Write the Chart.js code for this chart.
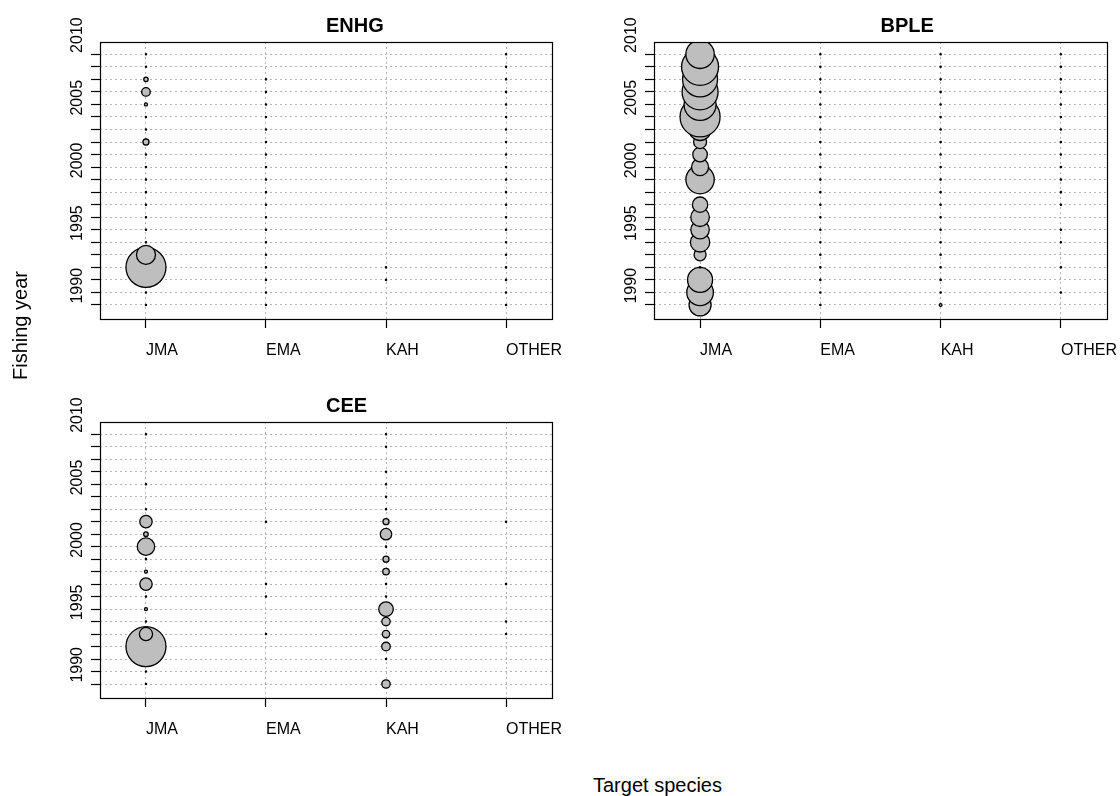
<!DOCTYPE html>
<html>
<head>
<meta charset="utf-8">
<script src="https://cdn.jsdelivr.net/npm/chart.js@4/dist/chart.umd.min.js"></script>
<style>
body { margin: 0; background: #fff; width: 1120px; height: 796px; position: relative; overflow: hidden; font-family: "Liberation Sans", Arial, sans-serif; }
.panel { position: absolute; height: 380px; }
.lab { position: absolute; font-size: 20px; line-height: 20px; white-space: nowrap; color: #000; }
</style>
</head>
<body>
<div class="panel" style="left:0;top:0"><canvas id="enhg" width="600" height="380"></canvas></div>
<div class="panel" style="left:0;top:380px"><canvas id="cee" width="600" height="380"></canvas></div>
<div class="panel" style="left:560px;top:0"><canvas id="bple" width="560" height="380"></canvas></div>
<div class="lab" style="left:10px;top:380px;transform-origin:0 0;transform:rotate(-90deg)">Fishing year</div>
<div class="lab" style="left:593px;top:775px">Target species</div>
<script>
// fishing years (rows) and target species (columns)
const years = [1990, 1991, 1992, 1993, 1994, 1995, 1996, 1997, 1998, 1999, 2000,
               2001, 2002, 2003, 2004, 2005, 2006, 2007, 2008, 2009, 2010]
const species = ["JMA", "EMA", "KAH", "OTHER"]

// relative catch per year (1990 -> 2010), null = no record
const enhgJMA   = [0.1, 0.1, 0.1, 100, 22.6, 0.1, 0.1, 0.1, 0.1, 0.1, 0.1, 0.1, 0.1, 2.3, 0.1, 0.1, 0.6, 4.6, 1.2, 0.1, 0.1]
const enhgEMA   = [0.1, 0.1, 0.1, 0.1, 0.1, 0.1, 0.1, 0.1, 0.1, 0.1, 0.1, 0.1, 0.1, 0.1, 0.1, 0.1, 0.1, 0.1, 0.1, null, null]
const enhgKAH   = [null, null, 0.1, 0.1, null, null, null, null, null, null, null, null, null, null, null, null, null, null, null, null, null]
const enhgOTHER = [0.1, 0.1, 0.1, 0.1, 0.1, 0.1, 0.1, 0.1, 0.1, 0.1, 0.1, 0.1, 0.1, 0.1, 0.1, 0.1, 0.1, 0.1, 0.1, 0.1, 0.1]

const bpleJMA   = [30.3, 44.2, 39, 0.16, 9, 23.5, 21.2, 21.6, 14.8, 0.25, 50.4, 18.1, 13.3, 10.6, 30.3, 100, 64, 81, 76.6, 85.6, 50.4]
const bpleEMA   = [0.1, 0.1, 0.1, 0.1, 0.1, 0.1, 0.1, 0.1, 0.1, 0.1, 0.1, 0.1, 0.1, 0.1, 0.1, 0.1, 0.1, 0.1, 0.1, 0.1, 0.1]
const bpleKAH   = [0.5, 0.1, 0.1, 0.1, 0.1, 0.1, 0.1, 0.1, 0.1, 0.1, 0.1, 0.1, 0.1, 0.1, 0.1, 0.1, 0.1, 0.1, 0.1, 0.1, 0.1]
const bpleOTHER = [null, 0.1, null, 0.1, null, 0.1, 0.1, null, 0.1, 0.1, 0.1, 0.1, 0.1, 0.1, 0.1, 0.1, 0.1, 0.1, 0.1, 0.1, 0.1]

const ceeJMA    = [0.1, 0.1, 0.1, 100, 10.9, 0.1, 0.6, 0.1, 9.6, 0.6, 0.1, 18.9, 1.3, 9.6, 0.1, null, 0.1, null, null, null, 0.1]
const ceeEMA    = [null, null, null, null, 0.1, null, null, 0.1, 0.1, null, null, null, null, 0.1, null, null, null, null, null, null, null]
const ceeKAH    = [4.4, null, 0.1, 4.6, 3.4, 4.4, 13.3, 0.1, 0.1, 2.7, 2.3, 0.1, 8.1, 2.3, 0.1, 0.1, 0.1, 0.1, null, 0.1, 0.1]
const ceeOTHER  = [null, null, null, null, 0.1, 0.1, null, null, 0.1, null, null, null, null, 0.1, null, null, null, null, null, null, null]

const maxRadius = 20
const fontFamily = '"Liberation Sans", Arial, sans-serif'

const panelFrame = {
    id: 'panelFrame',
    afterDraw(chart, args, opts) {
        const {ctx, chartArea: a} = chart
        ctx.save()
        ctx.strokeStyle = '#000'
        ctx.lineWidth = 1.2
        ctx.strokeRect(a.left + 0.5, a.top + 0.5, a.right - a.left, a.bottom - a.top)
        ctx.font = 'bold 20px ' + fontFamily
        ctx.fillStyle = '#000'
        ctx.textAlign = 'left'
        ctx.textBaseline = 'alphabetic'
        ctx.fillText(opts.text, (a.left + a.right) / 2, a.top - 10)
        ctx.restore()
    }
}

function noOverflow(s) {
    s.paddingLeft = 0
    s.paddingRight = 0
    s.paddingTop = 0
    s.paddingBottom = 0
}

function drawPanel({canvasId, title, series, area}) {
    const canvas = document.getElementById(canvasId)
    const W = canvas.width, H = canvas.height
    const maxVal = Math.max(...series.flat().filter(v => v != null))
    const datasets = series.map((vals, i) => ({
        data: years.map((y, j) => vals[j] == null ? null :
            {x: i + 1, y: y, r: maxRadius * Math.sqrt(vals[j] / maxVal)}).filter(p => p),
        backgroundColor: '#bebebe',
        borderColor: '#000',
        borderWidth: 1.3,
        clip: 0
    }))

    new Chart(canvas, {
        type: 'bubble',
        data: {datasets},
        options: {
            responsive: false,
            animation: false,
            events: [],
            layout: {autoPadding: false, padding: {left: 0, top: area.top, right: W - area.right, bottom: 0}},
            plugins: {
                legend: {display: false},
                tooltip: {enabled: false},
                panelFrame: {text: title}
            },
            scales: {
                x: {
                    type: 'linear',
                    min: 0.617,
                    max: 4.383,
                    afterBuildTicks: s => { s.ticks = species.map((n, i) => ({value: i + 1})) },
                    afterFit: s => { s.height = H - area.bottom; noOverflow(s) },
                    ticks: {
                        autoSkip: false,
                        align: 'start',
                        color: '#000',
                        padding: 13,
                        font: {size: 16, family: fontFamily},
                        callback: v => species[v - 1]
                    },
                    grid: {color: '#b4b4b4', lineWidth: 1, tickColor: '#000', tickLength: 9, tickWidth: 1.2},
                    border: {display: false, dash: [2, 3]}
                },
                y: {
                    type: 'linear',
                    min: 1988.88,
                    max: 2010.98,
                    afterBuildTicks: s => { s.ticks = years.map(v => ({value: v})) },
                    afterFit: s => { s.width = area.left; noOverflow(s) },
                    ticks: {
                        autoSkip: false,
                        minRotation: 90,
                        maxRotation: 90,
                        crossAlign: 'near',
                        labelOffset: -37,
                        color: '#000',
                        padding: 13,
                        font: {size: 16, family: fontFamily},
                        callback: v => v % 5 === 0 ? String(v) : ''
                    },
                    grid: {color: '#b4b4b4', lineWidth: 1, tickColor: '#000', tickLength: 9, tickWidth: 1.2},
                    border: {display: false, dash: [2, 3]}
                }
            }
        },
        plugins: [panelFrame]
    })
}

drawPanel({
    canvasId: 'enhg',
    title: 'ENHG',
    series: [enhgJMA, enhgEMA, enhgKAH, enhgOTHER],
    area: {left: 100, top: 42, right: 552, bottom: 319}
})

drawPanel({
    canvasId: 'bple',
    title: 'BPLE',
    series: [bpleJMA, bpleEMA, bpleKAH, bpleOTHER],
    area: {left: 94, top: 42, right: 547, bottom: 319}
})

drawPanel({
    canvasId: 'cee',
    title: 'CEE',
    series: [ceeJMA, ceeEMA, ceeKAH, ceeOTHER],
    area: {left: 100, top: 42, right: 552, bottom: 318}
})
</script>
</body>
</html>
